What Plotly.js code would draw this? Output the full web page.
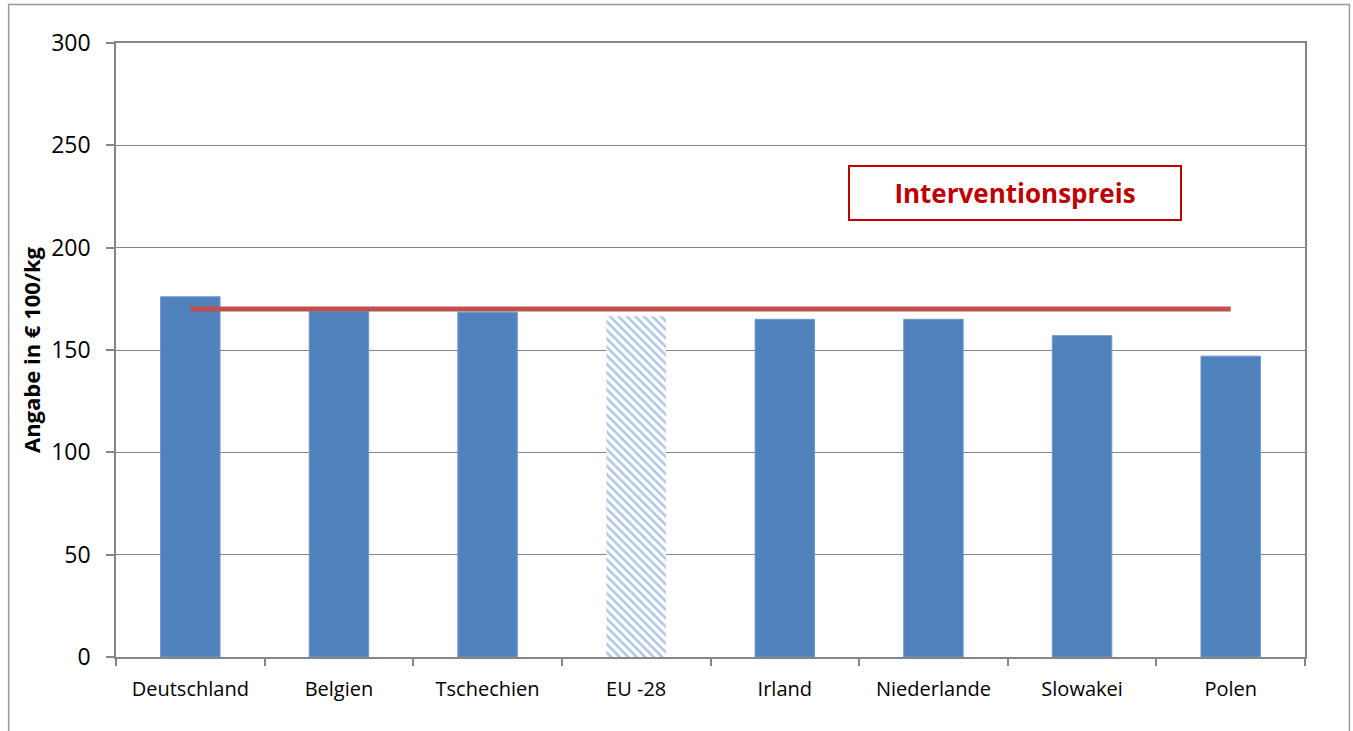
<!DOCTYPE html>
<html>
<head>
<meta charset="utf-8">
<script src="https://cdn.plot.ly/plotly-3.0.1.min.js"></script>
<style>html,body{margin:0;padding:0;background:#fff;}#chart{width:1353px;height:731px;}</style>
</head>
<body>
<div id="chart"></div>
<script>
const categories = ['Deutschland', 'Belgien', 'Tschechien', 'EU -28', 'Irland', 'Niederlande', 'Slowakei', 'Polen'];
const prices = [176, 169, 168.5, 166.5, 165, 165, 157, 147];
const interventionPrice = [170, 170, 170, 170, 170, 170, 170, 170];
const yTicks = [0, 50, 100, 150, 200, 250, 300];
const yTitle = 'Angabe in € 100/kg';
const lineLabel = 'Interventionspreis';
const averageCategory = 'EU -28';

const countryY = categories.map((c, i) => c === averageCategory ? null : prices[i]);
const averageY = categories.map((c, i) => c === averageCategory ? prices[i] : null);

const bars = {
  type: 'bar',
  x: categories,
  y: countryY,
  marker: {color: '#4F81BD', line: {color: '#6f97cc', width: 1}},
  showlegend: false
};

const avgBar = {
  type: 'bar',
  x: categories,
  y: averageY,
  marker: {
    color: 'white',
    line: {color: 'rgba(0,0,0,0)', width: 0},
    pattern: {shape: '\\', fgcolor: '#5f8dca', bgcolor: 'white', size: 6, solidity: 0.42, fillmode: 'overlay'}
  },
  showlegend: false
};

const line = {
  type: 'scatter',
  mode: 'lines',
  x: categories,
  y: interventionPrice,
  line: {color: '#C0504D', width: 5},
  showlegend: false
};

const font = 'Open Sans, Noto Sans, Liberation Sans, sans-serif';

const layout = {
  width: 1353,
  height: 731,
  margin: {l: 116, r: 48, t: 43, b: 74},
  paper_bgcolor: 'white',
  plot_bgcolor: 'white',
  barmode: 'overlay',
  bargap: 0.6,
  font: {family: font, size: 20, color: '#000'},
  xaxis: {
    type: 'category',
    showline: true,
    linecolor: '#868686',
    linewidth: 1.5,
    mirror: true,
    ticks: 'outside',
    tickson: 'boundaries',
    ticklen: 7,
    tickcolor: '#868686',
    tickwidth: 1.5,
    showgrid: false,
    tickangle: 0,
    ticklabelstandoff: 13,
    tickfont: {family: font, size: 20, color: '#000'}
  },
  yaxis: {
    range: [0, 300],
    tickvals: yTicks,
    ticktext: yTicks.map(String),
    showline: true,
    linecolor: '#868686',
    linewidth: 1.5,
    mirror: true,
    ticks: 'outside',
    ticklen: 8,
    tickcolor: '#868686',
    tickwidth: 1.5,
    showgrid: true,
    gridcolor: '#868686',
    gridwidth: 1.2,
    zeroline: false,
    ticklabelstandoff: 11,
    tickfont: {family: font, size: 23, color: '#000'},
    title: {text: yTitle, font: {family: font, size: 22, color: '#000', weight: 'bold'}, standoff: 4}
  },
  shapes: [
    {type: 'rect', xref: 'paper', yref: 'paper', x0: -0.0903, x1: 1.0374, y0: -0.3, y1: 1.0627,
     line: {color: '#9a9a9a', width: 1.5}, fillcolor: 'rgba(0,0,0,0)', layer: 'below'}
  ],
  annotations: [
    {xref: 'paper', yref: 'paper', x: 0.7563, y: 0.7557, xanchor: 'center', yanchor: 'middle',
     text: '<b>' + lineLabel + '</b>', showarrow: false,
     font: {family: font, size: 26, color: '#C00000'},
     bordercolor: '#C00000', borderwidth: 2, width: 328, height: 50, bgcolor: 'white'}
  ]
};

Plotly.newPlot('chart', [bars, avgBar, line], layout, {displayModeBar: false});
</script>
</body>
</html>
